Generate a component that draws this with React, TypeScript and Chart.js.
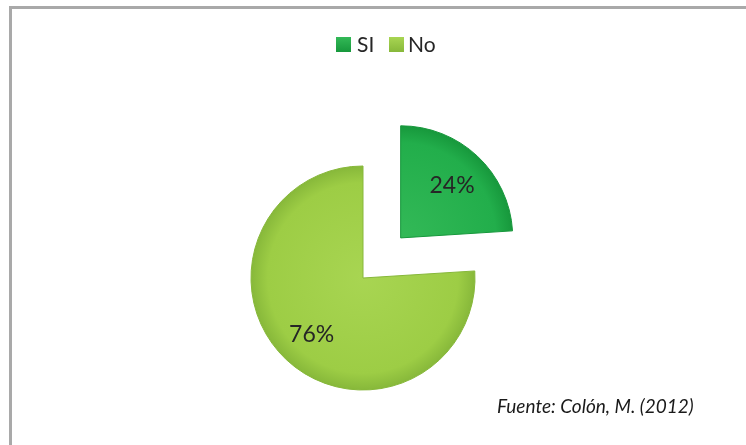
import React, { useEffect, useRef } from 'react';
import { Chart, registerables } from 'chart.js';

Chart.register(...registerables);

const categories = ['SI', 'No'];
const values = [24, 76];
const sliceColors = ['#22ae4b', '#9dcd45'];
const edgeColors = ['#17983c', '#87b83a'];
const lightColors = ['#33b957', '#a8d552'];
const footnote = 'Fuente: Colón, M. (2012)';

const W = 746;
const H = 445;

export default function App() {
  const ref = useRef<HTMLCanvasElement>(null);

  useEffect(() => {
    const canvas = ref.current;
    if (!canvas) return;

    const fill = (ctx: any) => {
      const i = ctx.dataIndex ?? 0;
      const chart = ctx.chart;
      const a = chart.chartArea;
      if (!a) return sliceColors[i];
      const cx = (a.left + a.right) / 2;
      const cy = (a.top + a.bottom) / 2;
      const g = chart.ctx.createRadialGradient(cx, cy, 0, cx, cy, 112);
      g.addColorStop(0, lightColors[i]);
      g.addColorStop(0.85, sliceColors[i]);
      g.addColorStop(1, edgeColors[i]);
      return g;
    };

    const decor = {
      id: 'decor',
      beforeDraw(chart: any) {
        const c = chart.ctx;
        c.save();
        c.fillStyle = '#ffffff';
        c.fillRect(0, 0, W, H);
        c.fillStyle = '#a9a9a9';
        c.fillRect(9, 6, W - 9, 3);
        c.fillRect(9, 6, 3, H - 6);
        c.restore();
      },
      afterDraw(chart: any) {
        const c = chart.ctx;
        c.save();
        const boxX = [336, 389];
        const textX = [357, 408];
        categories.forEach((name, i) => {
          const g = c.createLinearGradient(0, 37, 0, 52);
          g.addColorStop(0, lightColors[i]);
          g.addColorStop(1, edgeColors[i]);
          c.fillStyle = g;
          c.fillRect(boxX[i], 37, 15, 15);
          c.fillStyle = '#262626';
          c.font = '21px Lato, "Open Sans", sans-serif';
          c.textAlign = 'left';
          c.textBaseline = 'alphabetic';
          c.fillText(name, textX[i], 52);
        });
        c.font = 'italic 19px Lato, "Open Sans", sans-serif';
        c.fillStyle = '#1a1a1a';
        c.textAlign = 'left';
        c.fillText(footnote, 497, 413);
        c.restore();
      },
      afterDatasetsDraw(chart: any) {
        const c = chart.ctx;
        const meta = chart.getDatasetMeta(0);
        c.save();
        c.font = '23px Lato, "Open Sans", sans-serif';
        c.fillStyle = '#262626';
        c.textAlign = 'center';
        c.textBaseline = 'middle';
        meta.data.forEach((arc: any, i: number) => {
          const p = arc.getProps(['x', 'y', 'startAngle', 'endAngle', 'outerRadius']);
          const mid = (p.startAngle + p.endAngle) / 2;
          const off = (arc.options.offset || 0) / 4;
          const d = off + p.outerRadius * 0.67;
          const x = p.x + Math.cos(mid) * d;
          const y = p.y + Math.sin(mid) * d;
          c.fillText(values[i] + '%', x, y + 2);
        });
        c.restore();
      },
    };

    const chart = new Chart(canvas, {
      type: 'pie',
      data: {
        labels: categories,
        datasets: [
          {
            data: values,
            backgroundColor: fill,
            borderColor: edgeColors,
            borderWidth: 1,
            offset: [220, 0],
            hoverOffset: 0,
          } as any,
        ],
      },
      options: {
        responsive: false,
        animation: false,
        radius: 112,
        layout: { padding: { top: 130, bottom: 19, left: 200, right: 220 } },
        plugins: {
          legend: { display: false },
          tooltip: { enabled: false },
        },
        events: [],
      } as any,
      plugins: [decor],
    });

    return () => chart.destroy();
  }, []);

  return (
    <div style={{ position: 'fixed', left: 0, top: 0, width: W, height: H, background: '#fff' }}>
      <canvas ref={ref} width={W} height={H} style={{ display: 'block', width: W, height: H }} />
    </div>
  );
}
